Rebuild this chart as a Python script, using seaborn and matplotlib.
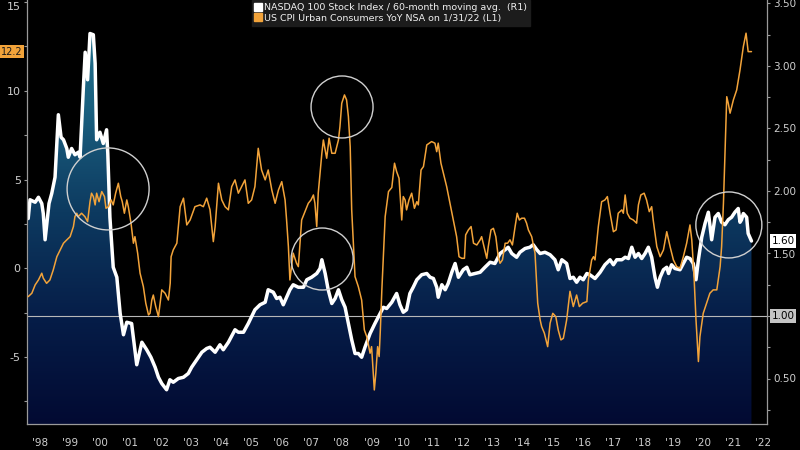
import numpy as np
import pandas as pd
import matplotlib
matplotlib.use("Agg")
import matplotlib.pyplot as plt
import seaborn as sns
from matplotlib.colors import LinearSegmentedColormap
from matplotlib.patches import Polygon, Ellipse
from matplotlib.lines import Line2D
from matplotlib.transforms import blended_transform_factory

# NASDAQ 100 / 60-month moving avg (right axis)
ndx_years = [1998.11, 1998.17, 1998.34, 1998.45, 1998.56, 1998.61, 1998.67, 1998.80, 1998.89, 1999.00,
             1999.11, 1999.20, 1999.28, 1999.39, 1999.44, 1999.55, 1999.66, 1999.77, 1999.83, 1999.94,
             2000.00, 2000.08, 2000.16, 2000.27, 2000.33, 2000.38, 2000.49, 2000.60, 2000.71, 2000.75,
             2000.82, 2000.93, 2001.05, 2001.16, 2001.27, 2001.38, 2001.54, 2001.71, 2001.88, 2002.04,
             2002.18, 2002.32, 2002.43, 2002.54, 2002.70, 2002.81, 2002.92, 2003.09, 2003.26, 2003.42,
             2003.53, 2003.70, 2003.87, 2004.03, 2004.14, 2004.31, 2004.47, 2004.58, 2004.75, 2004.97,
             2005.08, 2005.25, 2005.41, 2005.63, 2005.80, 2005.97, 2006.07, 2006.24, 2006.35, 2006.46,
             2006.57, 2006.68, 2006.79, 2006.90, 2007.07, 2007.24, 2007.35, 2007.51, 2007.68, 2007.79,
             2007.85, 2007.96, 2008.06, 2008.18, 2008.29, 2008.40, 2008.51, 2008.62, 2008.73, 2008.84,
             2008.95, 2009.06, 2009.17, 2009.28, 2009.45, 2009.61, 2009.78, 2009.89, 2010.00, 2010.17,
             2010.33, 2010.44, 2010.55, 2010.66, 2010.77, 2010.88, 2011.00, 2011.16, 2011.33, 2011.44,
             2011.55, 2011.66, 2011.71, 2011.83, 2011.94, 2012.04, 2012.16, 2012.27, 2012.38, 2012.54,
             2012.66, 2012.76, 2012.93, 2013.10, 2013.26, 2013.43, 2013.59, 2013.76, 2013.93, 2014.03,
             2014.15, 2014.31, 2014.42, 2014.59, 2014.75, 2014.86, 2014.98, 2015.09, 2015.25, 2015.42,
             2015.58, 2015.69, 2015.81, 2015.97, 2016.08, 2016.19, 2016.30, 2016.41, 2016.52, 2016.64,
             2016.74, 2016.91, 2017.08, 2017.24, 2017.41, 2017.52, 2017.63, 2017.80, 2017.91, 2018.02,
             2018.13, 2018.24, 2018.35, 2018.46, 2018.57, 2018.68, 2018.79, 2018.90, 2018.98, 2019.07,
             2019.18, 2019.29, 2019.35, 2019.45, 2019.56, 2019.73, 2019.84, 2019.95, 2020.06, 2020.17,
             2020.26, 2020.34, 2020.45, 2020.56, 2020.67, 2020.78, 2020.89, 2021.00, 2021.11, 2021.22,
             2021.33, 2021.44, 2021.55, 2021.66, 2021.72, 2021.77, 2021.83, 2021.94, 2021.99, 2022.10]
ndx_ratio = [1.78, 1.93, 1.91, 1.95, 1.90, 1.82, 1.61, 1.90, 1.98, 2.11,
             2.61, 2.43, 2.41, 2.34, 2.27, 2.34, 2.29, 2.31, 2.27, 2.83,
             3.11, 2.89, 3.26, 3.25, 3.02, 2.41, 2.47, 2.38, 2.49, 2.30,
             1.79, 1.39, 1.31, 1.02, 0.85, 0.95, 0.94, 0.61, 0.79, 0.73,
             0.67, 0.59, 0.51, 0.46, 0.41, 0.49, 0.47, 0.50, 0.51, 0.54,
             0.59, 0.65, 0.71, 0.74, 0.75, 0.71, 0.77, 0.73, 0.79, 0.89,
             0.87, 0.87, 0.94, 1.05, 1.09, 1.11, 1.21, 1.19, 1.14, 1.15,
             1.09, 1.15, 1.21, 1.25, 1.23, 1.23, 1.29, 1.31, 1.34, 1.38,
             1.45, 1.34, 1.21, 1.10, 1.14, 1.21, 1.13, 1.07, 0.94, 0.81,
             0.70, 0.70, 0.67, 0.75, 0.86, 0.94, 1.02, 1.07, 1.06, 1.11,
             1.18, 1.09, 1.03, 1.05, 1.18, 1.23, 1.29, 1.33, 1.34, 1.31,
             1.30, 1.23, 1.15, 1.25, 1.21, 1.26, 1.35, 1.42, 1.31, 1.37,
             1.39, 1.33, 1.34, 1.35, 1.39, 1.43, 1.42, 1.50, 1.53, 1.55,
             1.50, 1.47, 1.51, 1.54, 1.55, 1.57, 1.53, 1.50, 1.51, 1.49,
             1.45, 1.37, 1.45, 1.42, 1.30, 1.31, 1.27, 1.31, 1.29, 1.34,
             1.33, 1.30, 1.35, 1.41, 1.45, 1.41, 1.45, 1.45, 1.47, 1.46,
             1.55, 1.47, 1.50, 1.46, 1.50, 1.55, 1.47, 1.31, 1.23, 1.31,
             1.37, 1.39, 1.34, 1.41, 1.38, 1.37, 1.42, 1.47, 1.46, 1.42,
             1.29, 1.45, 1.63, 1.74, 1.83, 1.61, 1.79, 1.82, 1.75, 1.73,
             1.77, 1.79, 1.83, 1.86, 1.75, 1.77, 1.82, 1.79, 1.66, 1.60]

# US CPI Urban Consumers YoY (left axis)
cpi_years = [1998.11, 1998.23, 1998.34, 1998.45, 1998.56, 1998.61, 1998.72, 1998.83, 1998.94, 1999.06,
             1999.17, 1999.28, 1999.39, 1999.50, 1999.61, 1999.66, 1999.72, 1999.77, 1999.88, 1999.99,
             2000.08, 2000.16, 2000.21, 2000.27, 2000.33, 2000.38, 2000.46, 2000.55, 2000.64, 2000.69,
             2000.77, 2000.86, 2000.93, 2001.01, 2001.10, 2001.18, 2001.23, 2001.30, 2001.38, 2001.43,
             2001.52, 2001.60, 2001.65, 2001.74, 2001.82, 2001.93, 2002.01, 2002.10, 2002.15, 2002.21,
             2002.26, 2002.34, 2002.43, 2002.54, 2002.65, 2002.76, 2002.82, 2002.85, 2002.92, 2003.04,
             2003.15, 2003.26, 2003.37, 2003.48, 2003.64, 2003.81, 2003.92, 2004.03, 2004.14, 2004.25,
             2004.31, 2004.42, 2004.53, 2004.64, 2004.75, 2004.86, 2004.97, 2005.08, 2005.19, 2005.30,
             2005.41, 2005.52, 2005.63, 2005.74, 2005.85, 2005.97, 2006.07, 2006.19, 2006.30, 2006.41,
             2006.52, 2006.63, 2006.68, 2006.74, 2006.79, 2006.90, 2007.01, 2007.07, 2007.18, 2007.29,
             2007.40, 2007.49, 2007.57, 2007.62, 2007.68, 2007.73, 2007.85, 2007.90, 2008.01, 2008.09,
             2008.18, 2008.29, 2008.40, 2008.45, 2008.51, 2008.60, 2008.67, 2008.73, 2008.79, 2008.84,
             2008.90, 2008.95, 2009.06, 2009.17, 2009.26, 2009.34, 2009.45, 2009.50, 2009.56, 2009.59,
             2009.64, 2009.70, 2009.75, 2009.79, 2009.84, 2009.95, 2010.06, 2010.17, 2010.26, 2010.33,
             2010.41, 2010.50, 2010.55, 2010.61, 2010.66, 2010.74, 2010.83, 2010.92, 2011.00, 2011.05,
             2011.14, 2011.22, 2011.33, 2011.49, 2011.60, 2011.66, 2011.71, 2011.80, 2011.88, 2011.99,
             2012.10, 2012.21, 2012.32, 2012.40, 2012.49, 2012.58, 2012.62, 2012.71, 2012.80, 2012.88,
             2012.99, 2013.10, 2013.15, 2013.24, 2013.32, 2013.37, 2013.46, 2013.54, 2013.62, 2013.70,
             2013.76, 2013.84, 2013.93, 2014.01, 2014.09, 2014.17, 2014.26, 2014.33, 2014.40, 2014.48,
             2014.57, 2014.64, 2014.70, 2014.81, 2014.92, 2015.01, 2015.09, 2015.14, 2015.23, 2015.34,
             2015.42, 2015.51, 2015.61, 2015.69, 2015.78, 2015.86, 2015.97, 2016.08, 2016.19, 2016.30,
             2016.39, 2016.50, 2016.64, 2016.69, 2016.80, 2016.86, 2016.91, 2017.02, 2017.13, 2017.24,
             2017.32, 2017.41, 2017.52, 2017.61, 2017.68, 2017.80, 2017.85, 2017.91, 2017.98, 2018.07,
             2018.18, 2018.29, 2018.35, 2018.43, 2018.54, 2018.62, 2018.71, 2018.79, 2018.84, 2018.96,
             2019.07, 2019.18, 2019.29, 2019.40, 2019.51, 2019.62, 2019.73, 2019.84, 2019.95, 2020.06,
             2020.12, 2020.19, 2020.26, 2020.34, 2020.39, 2020.50, 2020.61, 2020.72, 2020.83, 2020.95,
             2021.06, 2021.11, 2021.17, 2021.22, 2021.28, 2021.33, 2021.39, 2021.50, 2021.61, 2021.72,
             2021.83, 2021.92, 2021.99, 2022.10]
cpi_values = [-1.60, -1.41, -0.94, -0.66, -0.28, -0.56, -0.85, -0.66, -0.10, 0.65,
              1.03, 1.41, 1.60, 1.78, 2.35, 2.91, 3.10, 2.91, 3.10, 2.91,
              2.63, 3.75, 4.23, 4.04, 3.57, 4.23, 3.75, 4.32, 4.04, 3.38,
              3.47, 3.85, 3.57, 4.23, 4.79, 4.04, 3.75, 3.10, 3.85, 3.47,
              2.54, 1.41, 1.78, 0.85, -0.28, -1.04, -1.97, -2.63, -2.54, -1.79,
              -1.51, -2.16, -2.73, -1.22, -1.41, -1.79, -0.85, 0.65, 1.03, 1.41,
              3.47, 3.95, 2.44, 2.72, 3.47, 3.57, 3.47, 3.95, 3.30, 1.50,
              2.35, 4.79, 3.85, 3.47, 3.29, 4.60, 4.98, 4.23, 4.60, 4.98,
              3.66, 3.85, 4.60, 6.76, 5.54, 4.98, 5.54, 4.41, 3.66, 4.41,
              4.88, 3.85, 2.72, 1.22, -0.66, 0.85, 0.28, 0.09, 2.72, 3.19,
              3.66, 3.85, 4.13, 3.66, 2.35, 4.23, 6.48, 7.23, 6.20, 7.33,
              6.48, 6.48, 7.23, 7.98, 9.30, 9.77, 9.49, 8.55, 6.85, 3.29,
              1.22, -0.47, -1.04, -1.79, -3.48, -3.86, -4.79, -4.42, -6.11, -6.86,
              -5.92, -4.42, -4.98, -3.48, -1.22, 2.91, 4.32, 4.55, 5.92, 5.45,
              5.07, 2.72, 4.04, 3.85, 3.29, 3.85, 4.23, 3.38, 3.75, 3.57,
              5.54, 5.73, 6.95, 7.14, 7.05, 6.57, 7.05, 5.92, 5.36, 4.60,
              3.66, 2.72, 1.78, 0.65, 0.56, 0.56, 1.88, 2.16, 2.35, 1.41,
              1.31, 1.60, 1.78, 1.13, 0.56, 1.22, 2.16, 2.25, 1.78, 0.65,
              0.28, 0.47, 1.41, 1.41, 1.60, 1.31, 2.35, 3.10, 2.72, 2.82,
              2.82, 2.54, 2.16, 1.78, 0.85, -1.97, -2.91, -3.29, -3.66, -4.42,
              -3.10, -2.54, -2.73, -3.48, -4.04, -3.95, -2.91, -1.30, -2.16, -1.51,
              -2.16, -1.97, -1.88, -0.66, 0.47, 0.65, 0.47, 2.35, 3.75, 3.85,
              4.04, 3.10, 2.06, 2.16, 3.10, 3.29, 3.10, 4.13, 3.10, 2.82,
              2.72, 2.54, 3.57, 4.13, 4.23, 3.85, 3.19, 3.47, 2.72, 1.22,
              0.65, 1.03, 2.06, 1.22, 0.47, 0.09, 0.00, 0.65, 1.41, 2.44,
              1.60, -0.28, -2.91, -5.26, -3.86, -2.54, -1.97, -1.41, -1.22, -1.22,
              0.09, 1.22, 3.66, 6.48, 9.67, 9.30, 8.74, 9.49, 10.05, 11.18,
              12.49, 13.25, 12.21, 12.21]

year_labels = ["'98", "'99", "'00", "'01", "'02", "'03", "'04", "'05", "'06", "'07", "'08", "'09",
               "'10", "'11", "'12", "'13", "'14", "'15", "'16", "'17", "'18", "'19", "'20", "'21", "'22"]
left_ticks = [-5, 0, 5, 10, 15]
right_ticks = [0.50, 1.00, 1.50, 2.00, 2.50, 3.00, 3.50]
ndx_last = 1.60
cpi_last = 12.2
ref_level = 1.00
# highlighted spots (year, cpi value, radius in px)
circles = [(2000.76, 4.47, 41), (2008.52, 9.09, 31), (2007.86, 0.52, 31), (2021.35, 2.44, 33)]

ndx = pd.DataFrame({"year": ndx_years, "ratio": ndx_ratio})
cpi = pd.DataFrame({"year": cpi_years, "cpi": cpi_values})

sns.set_style("dark")
plt.rcParams["font.family"] = ["DejaVu Sans"]

ORANGE = "#f2a33a"
GREY = "#cfcfcf"
XMIN, XMAX = 1998.07, 2022.615
LMIN, LMAX = -8.78, 15.12
RMIN, RMAX = 0.136, 3.528

fig = plt.figure(figsize=(8, 4.5), dpi=100, facecolor="black")
ax = fig.add_axes([27 / 800, 26 / 450, 740 / 800, 424 / 450])
ax2 = ax.twinx()
ax.set_zorder(ax2.get_zorder() + 1)
ax.patch.set_visible(False)
ax2.set_facecolor("black")

# gradient area under the NASDAQ ratio
cmap = LinearSegmentedColormap.from_list("bb", ["#020a32", "#061d48", "#0d3a60", "#1b6180", "#25748e"])
grad = np.linspace(0, 1, 256).reshape(-1, 1)
im = ax2.imshow(grad, extent=[XMIN, XMAX, RMIN, RMAX], origin="lower", aspect="auto",
                cmap=cmap, zorder=1)
verts = [(ndx.year.iloc[0], RMIN)] + list(zip(ndx.year, ndx.ratio)) + [(ndx.year.iloc[-1], RMIN)]
clip = Polygon(verts, closed=True, facecolor="none", edgecolor="none", transform=ax2.transData)
ax2.add_patch(clip)
im.set_clip_path(clip)

ax2.axhline(ref_level, color="#b8b8b8", lw=0.8, zorder=2)
sns.lineplot(data=ndx, x="year", y="ratio", ax=ax2, color="white", lw=2.5, zorder=3)
sns.lineplot(data=cpi, x="year", y="cpi", ax=ax, color=ORANGE, lw=1.1, zorder=4)

# circles in pixel-true shape
px_per_year = 740 / (XMAX - XMIN)
px_per_unit = 424 / (LMAX - LMIN)
for cx, cy, r in circles:
    ax.add_patch(Ellipse((cx, cy), 2 * r / px_per_year, 2 * r / px_per_unit,
                         fill=False, ec="#d0d0d0", lw=1.0, zorder=5))

ax.set_xlim(XMIN, XMAX)
ax.set_ylim(LMIN, LMAX)
ax2.set_ylim(RMIN, RMAX)
ax2.set_xlim(XMIN, XMAX)

for a in (ax, ax2):
    a.set_xlabel("")
    a.set_ylabel("")
    a.grid(False)
    for s in a.spines.values():
        s.set_visible(False)
ax.spines["left"].set_visible(True)
ax.spines["bottom"].set_visible(True)
ax2.spines["right"].set_visible(True)
for s in (ax.spines["left"], ax.spines["bottom"], ax2.spines["right"]):
    s.set_color("#9a9a9a")
    s.set_linewidth(0.9)

# x axis: boundaries as major ticks, labels centred in each year
ax.set_xticks(np.arange(1999, 2023))
ax.set_xticklabels([])
ax.set_xticks(np.arange(1998, 2023) + 0.5, minor=True)
ax.set_xticklabels(year_labels, minor=True)
ax.tick_params(axis="x", which="major", length=9, width=0.8, color="#9a9a9a", direction="out")
ax.tick_params(axis="x", which="minor", length=0, pad=10, labelsize=7.5, labelcolor=GREY)

ax.set_yticks(left_ticks)
ax.set_yticklabels([str(t) for t in left_ticks])
ax.set_yticks(np.arange(-7.5, 15.1, 2.5), minor=True)
ax.tick_params(axis="y", which="both", left=True, length=2.5, width=0.8, color="#9a9a9a",
               labelsize=8, labelcolor=GREY, pad=2)
# top label sits against the figure edge, keep it inside
ax.get_yticklabels()[-1].set_verticalalignment("top")

# the 1.00 level carries its own tag, so its tick label stays empty
ax2.set_yticks(right_ticks)
ax2.set_yticklabels(["" if t == ref_level else f"{t:.2f}" for t in right_ticks])
ax2.set_yticks(np.arange(0.25, 3.51, 0.25), minor=True)
ax2.tick_params(axis="y", which="both", right=True, length=2.5, width=0.8, color="#9a9a9a",
                labelsize=7.5, labelcolor=GREY, pad=2)

# last-value tags
tl = blended_transform_factory(ax.transAxes, ax.transData)
ax.text(-0.006, cpi_last, f"{cpi_last:.1f}", transform=tl, ha="right", va="center", fontsize=7,
        color="#1a1a1a", bbox=dict(boxstyle="square,pad=0.15", fc=ORANGE, ec="none"), zorder=6)
tr = blended_transform_factory(ax2.transAxes, ax2.transData)
ax2.text(1.006, ndx_last, f"{ndx_last:.2f}", transform=tr, ha="left", va="center", fontsize=7.5,
         color="black", bbox=dict(boxstyle="square,pad=0.15", fc="white", ec="none"), zorder=6)
ax2.text(1.006, ref_level, f"{ref_level:.2f}", transform=tr, ha="left", va="center", fontsize=7.5,
         color="black", bbox=dict(boxstyle="square,pad=0.15", fc="#c4c4c4", ec="none"), zorder=6)

handles = [Line2D([], [], ls="none", marker="s", ms=6, mfc="white", mec="white"),
           Line2D([], [], ls="none", marker="s", ms=6, mfc=ORANGE, mec=ORANGE)]
labels = ["NASDAQ 100 Stock Index / 60-month moving avg.  (R1)",
          "US CPI Urban Consumers YoY NSA on 1/31/22 (L1)"]
leg = fig.legend(handles, labels, loc="upper left", bbox_to_anchor=(252 / 800, 1.0),
                 fontsize=6.8, labelcolor="#f0f0f0", frameon=True, facecolor="#1c1c1c",
                 edgecolor="#1c1c1c", framealpha=1, fancybox=False, handlelength=0.6,
                 handletextpad=0.3, borderpad=0.35, labelspacing=0.15, borderaxespad=0)

fig.savefig("out.png", dpi=100, facecolor="black")
